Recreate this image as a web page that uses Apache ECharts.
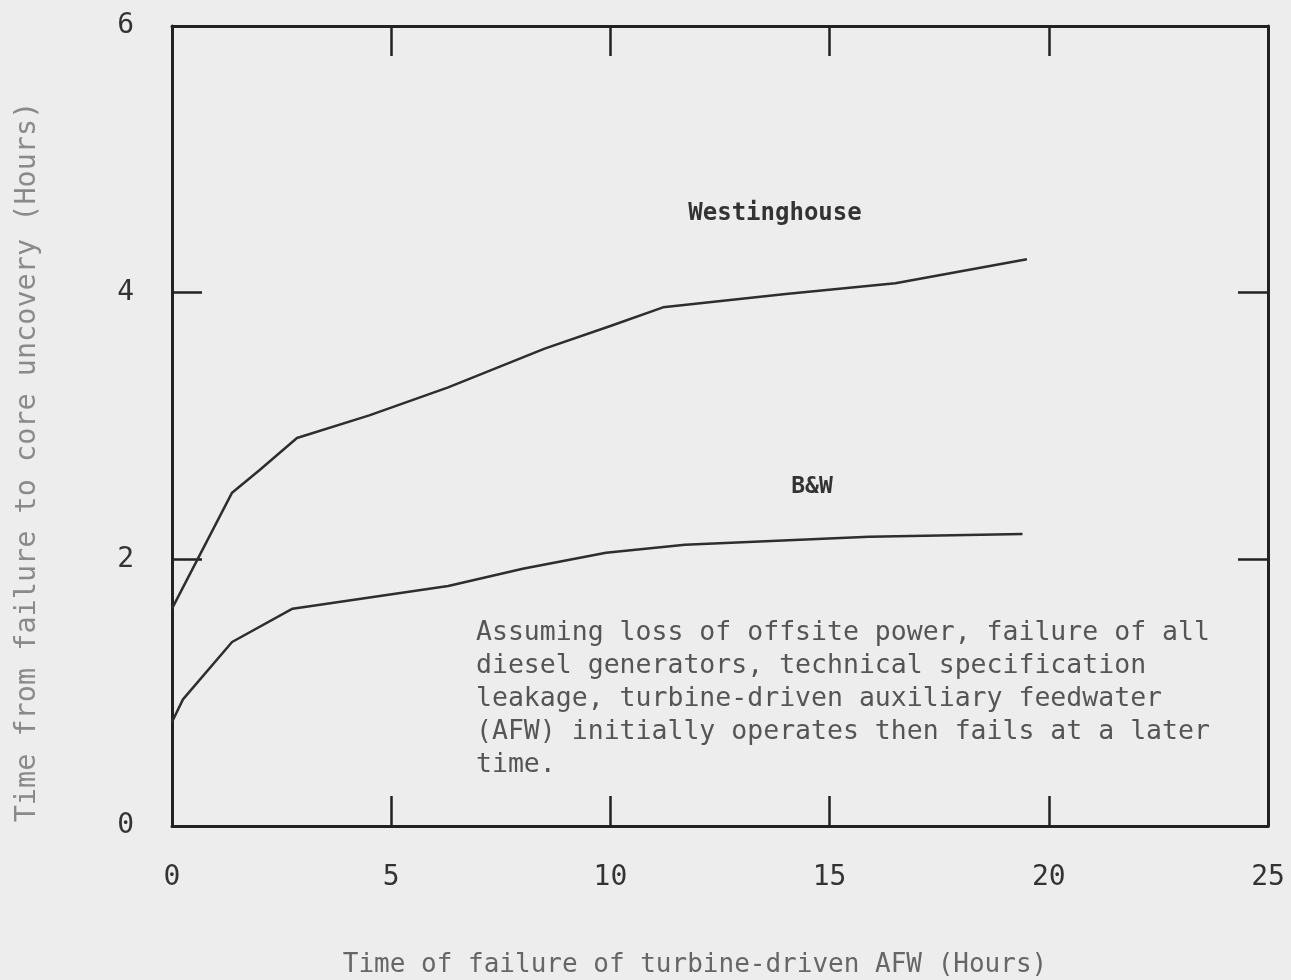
<!DOCTYPE html>
<html>
<head>
<meta charset="utf-8">
<script src="https://cdn.jsdelivr.net/npm/echarts@6/dist/echarts.min.js"></script>
<style>
html,body{margin:0;padding:0;background:#ededed;}
#chart{width:1291px;height:980px;}
</style>
</head>
<body>
<div id="chart"></div>
<script>
// Data
const westX = [0, 1.37, 2.0, 2.85, 4.5, 6.3, 8.5, 10.0, 11.2, 14.0, 16.5, 19.5];
const westY = [1.63, 2.5, 2.67, 2.91, 3.08, 3.29, 3.58, 3.75, 3.89, 3.99, 4.07, 4.25];
const bwX = [0, 0.25, 1.37, 2.75, 4.0, 6.3, 8.0, 9.9, 11.7, 15.9, 19.4];
const bwY = [0.78, 0.95, 1.38, 1.63, 1.69, 1.8, 1.93, 2.05, 2.11, 2.17, 2.19];
const xTicks = [0, 5, 10, 15, 20, 25];
const yTicks = [0, 2, 4, 6];
const xTitle = 'Time of failure of turbine-driven AFW (Hours)';
const yTitle = 'Time from failure to core uncovery (Hours)';
const noteLines = [
  'Assuming loss of offsite power, failure of all',
  'diesel generators, technical specification',
  'leakage, turbine-driven auxiliary feedwater',
  '(AFW) initially operates then fails at a later',
  'time.'
];
const seriesNames = ['Westinghouse', 'B&W'];

const FONT = '"DejaVu Sans Mono", "Liberation Mono", monospace';
const INK = '#2e2e2e';

const chart = echarts.init(document.getElementById('chart'));
const zip = (xs, ys) => xs.map((x, i) => [x, ys[i]]);

const axisLine = {show: true, onZero: false, lineStyle: {color: '#222', width: 3}};
const tick = {show: true, inside: true, length: 30, lineStyle: {color: '#222', width: 2.5}};

chart.setOption({
  backgroundColor: '#ededed',
  animation: false,
  grid: {left: 172, right: 23, top: 26, bottom: 154},
  xAxis: [
    {type: 'value', position: 'bottom', min: xTicks[0], max: xTicks[xTicks.length - 1], interval: 5,
     axisLine, axisTick: tick, splitLine: {show: false},
     axisLabel: {margin: 38, fontFamily: FONT, fontSize: 28, color: '#333'}},
    {type: 'value', position: 'top', min: 0, max: 25, interval: 5,
     axisLine, axisTick: tick, splitLine: {show: false}, axisLabel: {show: false}}
  ],
  yAxis: [
    {type: 'value', position: 'left', min: yTicks[0], max: yTicks[yTicks.length - 1], interval: 2,
     axisLine, axisTick: tick, splitLine: {show: false},
     axisLabel: {margin: 38, fontFamily: FONT, fontSize: 28, color: '#333'}},
    {type: 'value', position: 'right', min: 0, max: 6, interval: 2,
     axisLine, axisTick: tick, splitLine: {show: false}, axisLabel: {show: false}}
  ],
  series: [
    {name: seriesNames[0], type: 'line', data: zip(westX, westY), symbol: 'none',
     lineStyle: {color: INK, width: 2.5}},
    {name: seriesNames[1], type: 'line', data: zip(bwX, bwY), symbol: 'none',
     lineStyle: {color: INK, width: 2.5}}
  ],
  graphic: [
    {type: 'text', x: 775, y: 214, style: {text: seriesNames[0], font: 'bold 24px ' + FONT, fill: '#333', align: 'center', verticalAlign: 'middle'}},
    {type: 'text', x: 812, y: 487, style: {text: seriesNames[1], font: 'bold 23px ' + FONT, fill: '#333', align: 'center', verticalAlign: 'middle'}},
    {type: 'text', x: 476, y: 617, style: {text: noteLines.join('\n'), font: '26.5px ' + FONT, lineHeight: 33, fill: '#555', align: 'left', verticalAlign: 'top'}},
    {type: 'text', x: 695, y: 965, style: {text: xTitle, font: '26px ' + FONT, fill: '#666', align: 'center', verticalAlign: 'middle'}},
    {type: 'text', x: 28, y: 462, rotation: Math.PI / 2, style: {text: yTitle, font: '28.5px ' + FONT, fill: '#8a8a8a', align: 'center', verticalAlign: 'middle'}}
  ]
});
</script>
</body>
</html>
